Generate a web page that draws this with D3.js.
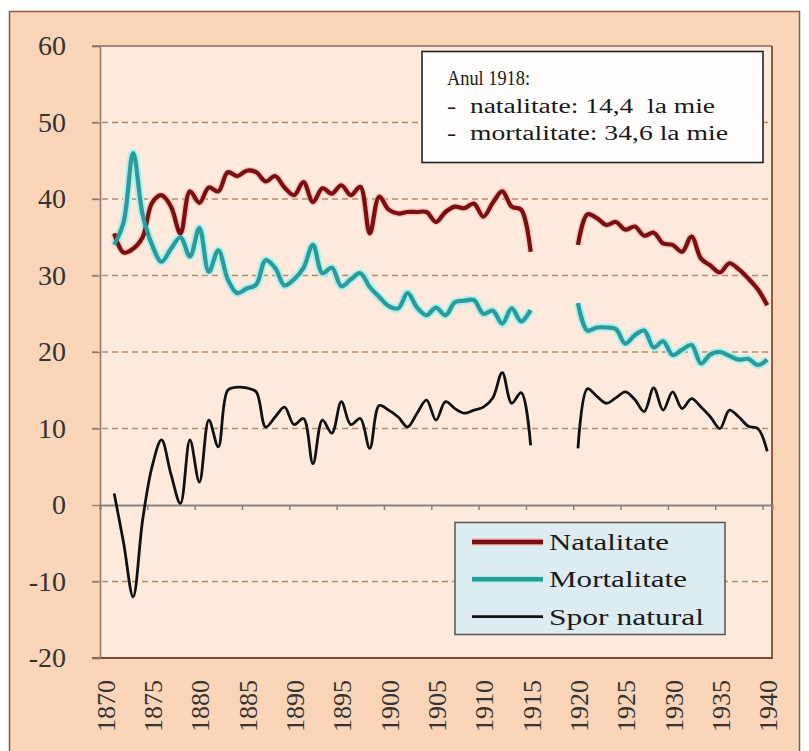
<!DOCTYPE html>
<html>
<head>
<meta charset="utf-8">
<script src="https://cdn.jsdelivr.net/npm/d3@7"></script>
<style>
  body { margin: 0; background: #fff; }
</style>
</head>
<body>
<svg class="chart"></svg>
<script>
// years 1871..1940, null = no data (1916-1919)
var years = d3.range(1871, 1941);

var natalitate = [
  35.5, 33.0, 33.5, 35.0, 39.5, 40.5, 39.0, 35.5, 41.0, 39.5,
  41.5, 41.0, 43.5, 43.0, 43.7, 43.5, 42.3, 43.0, 41.5, 40.5,
  42.2, 39.6, 41.4, 40.7, 41.8, 40.5, 41.6, 35.5, 40.3, 38.6,
  38.1, 38.3, 38.3, 38.3, 37.0, 38.3, 39.0, 38.8, 39.4, 37.7,
  39.5, 41.0, 39.0, 38.6, 33.1,
  null, null, null, null,
  34.0, 38.0, 37.5, 36.6, 37.0, 36.0, 36.4, 35.2, 35.6, 34.2,
  34.0, 33.1, 35.1, 32.2, 31.3, 30.4, 31.6, 30.8, 29.6, 28.2,
  26.1
];

var mortalitate = [
  34.0, 37.0, 46.0, 38.0, 34.0, 31.8, 33.5, 35.0, 32.5, 36.2,
  30.5, 33.3, 29.5, 27.7, 28.3, 28.8, 32.0, 31.0, 28.7, 29.5,
  31.0, 34.0, 30.3, 31.0, 28.6, 29.5, 30.3, 28.5, 27.2, 26.0,
  25.7, 27.7, 25.8, 24.8, 25.8, 24.8, 26.5, 26.7, 26.8, 25.0,
  25.4, 23.7, 25.7, 24.0, 25.5,
  null, null, null, null,
  26.4, 22.8, 23.2, 23.2, 23.0, 21.1, 22.2, 22.8, 20.6, 21.4,
  19.6, 20.3, 20.9, 18.5, 19.7, 20.0, 19.5, 19.0, 19.1, 18.3,
  19.0
];

var sporNatural = [
  1.5, -5.0, -12.0, -2.0, 5.0, 8.5, 4.0, 0.2, 8.5, 3.0,
  11.1, 7.6, 15.0, 15.4, 15.3, 14.8, 10.2, 11.5, 12.8, 10.5,
  11.3, 5.4, 11.1, 9.4, 13.5, 10.5, 11.3, 7.4, 13.0, 12.4,
  11.5, 10.2, 12.0, 13.7, 11.1, 13.5, 12.6, 12.0, 12.4, 12.8,
  14.0, 17.3, 13.3, 14.7, 7.8,
  null, null, null, null,
  7.4, 15.2, 14.2, 13.3, 14.0, 14.8, 13.8, 12.2, 15.3, 12.4,
  14.8, 12.6, 13.9, 12.8, 11.5, 10.0, 12.4, 11.5, 10.3, 10.0,
  7.0
];

var yTicks = [-20, -10, 0, 10, 20, 30, 40, 50, 60];
var xLabels = [1870, 1875, 1880, 1885, 1890, 1895, 1900, 1905, 1910, 1915, 1920, 1925, 1930, 1935, 1940];

var seriesNames = ["Natalitate", "Mortalitate", "Spor natural"];
var noteLines = ["Anul 1918:", "-  natalitate: 14,4  la mie", "-  mortalitate: 34,6 la mie"];

var W = 809, H = 751;
var plot = {left: 100, right: 772, top: 46, bottom: 658};
var serif = "'Liberation Serif', Tinos, 'Times New Roman', Times, 'Nimbus Roman', FreeSerif, 'DejaVu Serif', 'Noto Serif', serif";

var svg = d3.select(".chart").attr("width", W).attr("height", H)
    .attr("font-family", serif);

// outer chart area
svg.append("rect")
    .attr("x", 9.5).attr("y", 11.5)
    .attr("width", 790).attr("height", 760)
    .attr("fill", "#fbd5b8")
    .attr("stroke", "#8c5a40").attr("stroke-width", 1.5);

// plot area
svg.append("rect")
    .attr("x", plot.left).attr("y", plot.top)
    .attr("width", plot.right - plot.left).attr("height", plot.bottom - plot.top)
    .attr("fill", "#fdeadd");

var x = d3.scaleLinear().domain([1869.5, 1940.5]).range([plot.left, plot.right]);
var y = d3.scaleLinear().domain([-20, 60]).range([plot.bottom, plot.top]);

// dashed gridlines
svg.append("g").selectAll("line")
    .data(yTicks.filter(function(d) { return d !== 0 && d !== 60 && d !== -20; }))
  .enter().append("line")
    .attr("x1", plot.left - 8).attr("x2", plot.right)
    .attr("y1", function(d) { return y(d); })
    .attr("y2", function(d) { return y(d); })
    .attr("stroke", "#b58a68").attr("stroke-width", 1.3)
    .attr("stroke-dasharray", "6,4");

// plot borders
svg.append("line")
    .attr("x1", plot.left - 8).attr("x2", plot.right)
    .attr("y1", y(60)).attr("y2", y(60))
    .attr("stroke", "#8b6a58").attr("stroke-width", 1.3);
svg.append("line")
    .attr("x1", plot.left - 8).attr("x2", plot.right + 1)
    .attr("y1", y(-20)).attr("y2", y(-20))
    .attr("stroke", "#7a4a38").attr("stroke-width", 1.8);
svg.append("line")
    .attr("x1", plot.right).attr("x2", plot.right)
    .attr("y1", plot.top).attr("y2", plot.bottom)
    .attr("stroke", "#8a4a34").attr("stroke-width", 1.8);

// y axis
var yAxis = svg.append("g")
    .attr("transform", "translate(" + plot.left + ",0)")
    .call(d3.axisLeft(y).tickValues(yTicks).tickSize(8).tickPadding(26)
      .tickFormat(function(d) { return String(d); }));
yAxis.attr("font-family", serif).attr("font-size", 28);
yAxis.select(".domain").attr("stroke", "#8a7c72").attr("stroke-width", 1.6);
yAxis.selectAll(".tick line").attr("stroke", "#8a7c72").attr("stroke-width", 1.3);
yAxis.selectAll(".tick text").attr("fill", "#333");

// horizontal axis line at 0 with tick marks
var zeroAxis = svg.append("g")
    .attr("transform", "translate(0," + y(0) + ")")
    .call(d3.axisBottom(x).tickValues(d3.range(1869.5, 1941, 5)).tickSize(5).tickFormat(""));
zeroAxis.select(".domain").attr("stroke", "#8a8480").attr("stroke-width", 2.2);
zeroAxis.selectAll(".tick line").attr("stroke", "#8a8480").attr("stroke-width", 1.5);

// year labels at the bottom
svg.append("g").selectAll("text")
    .data(xLabels)
  .enter().append("text")
    .attr("transform", function(d) { return "translate(" + (x(d) + 1) + "," + (plot.bottom + 22) + ") rotate(-90)"; })
    .attr("dy", "0.35em")
    .attr("text-anchor", "end")
    .attr("font-size", 26)
    .attr("fill", "#333")
    .text(function(d) { return d; });

// lines
var line = function(vals) {
  return d3.line()
    .defined(function(d, i) { return vals[i] !== null; })
    .x(function(d) { return x(d); })
    .y(function(d, i) { return y(vals[i]); })
    .curve(d3.curveCatmullRom.alpha(0.5))(years);
};

var lines = svg.append("g");
lines.append("path").attr("d", line(natalitate))
    .attr("fill", "none").attr("stroke", "#e9b0a8").attr("stroke-width", 7).attr("opacity", 0.6);
lines.append("path").attr("d", line(mortalitate))
    .attr("fill", "none").attr("stroke", "#a9f0ee").attr("stroke-width", 8);
lines.append("path").attr("d", line(natalitate))
    .attr("fill", "none").attr("stroke", "#7b0f10").attr("stroke-width", 4.2)
    .attr("stroke-linejoin", "round");
lines.append("path").attr("d", line(mortalitate))
    .attr("fill", "none").attr("stroke", "#2b9a98").attr("stroke-width", 4.2)
    .attr("stroke-linejoin", "round");
lines.append("path").attr("d", line(sporNatural))
    .attr("fill", "none").attr("stroke", "#111").attr("stroke-width", 2.8)
    .attr("stroke-linejoin", "round");

// note box
var noteWidths = [83, 268, 281];
svg.append("rect")
    .attr("x", 422).attr("y", 51.5)
    .attr("width", 341).attr("height", 111)
    .attr("fill", "#fffefd")
    .attr("stroke", "#222").attr("stroke-width", 1.6);
svg.append("g").selectAll("text")
    .data(noteLines)
  .enter().append("text")
    .attr("x", 447)
    .attr("y", function(d, i) { return 85 + i * 27.5; })
    .attr("font-size", 20)
    .attr("fill", "#1a1a1a")
    .attr("textLength", function(d, i) { return noteWidths[i]; })
    .attr("lengthAdjust", "spacingAndGlyphs")
    .style("white-space", "pre")
    .text(function(d) { return d; });

// legend
var legendColors = ["#7b0f10", "#2b9a98", "#111"];
var legendWidths = [4.5, 4.5, 2.8];
var legendTextWidths = [120, 138, 155];
var legend = svg.append("g");
legend.append("rect")
    .attr("x", 455).attr("y", 522.5)
    .attr("width", 270).attr("height", 112)
    .attr("fill", "#dcecf1")
    .attr("stroke", "#555").attr("stroke-width", 1.5);
var rows = legend.selectAll(".row")
    .data(seriesNames)
  .enter().append("g")
    .attr("class", "row")
    .attr("transform", function(d, i) { return "translate(0," + (542 + i * 37.3) + ")"; });
rows.filter(function(d, i) { return i < 2; }).append("line")
    .attr("x1", 472).attr("x2", 543).attr("y1", 0).attr("y2", 0)
    .attr("stroke", function(d, i) { return i === 0 ? "#eab4ae" : "#a9f0ee"; })
    .attr("stroke-width", 7);
rows.append("line")
    .attr("x1", 472).attr("x2", 543).attr("y1", 0).attr("y2", 0)
    .attr("stroke", function(d, i) { return legendColors[i]; })
    .attr("stroke-width", function(d, i) { return legendWidths[i]; });
rows.append("text")
    .attr("x", 549).attr("y", 8)
    .attr("font-size", 24)
    .attr("fill", "#1a1a1a")
    .attr("textLength", function(d, i) { return legendTextWidths[i]; })
    .attr("lengthAdjust", "spacingAndGlyphs")
    .text(function(d) { return d; });
</script>
</body>
</html>
